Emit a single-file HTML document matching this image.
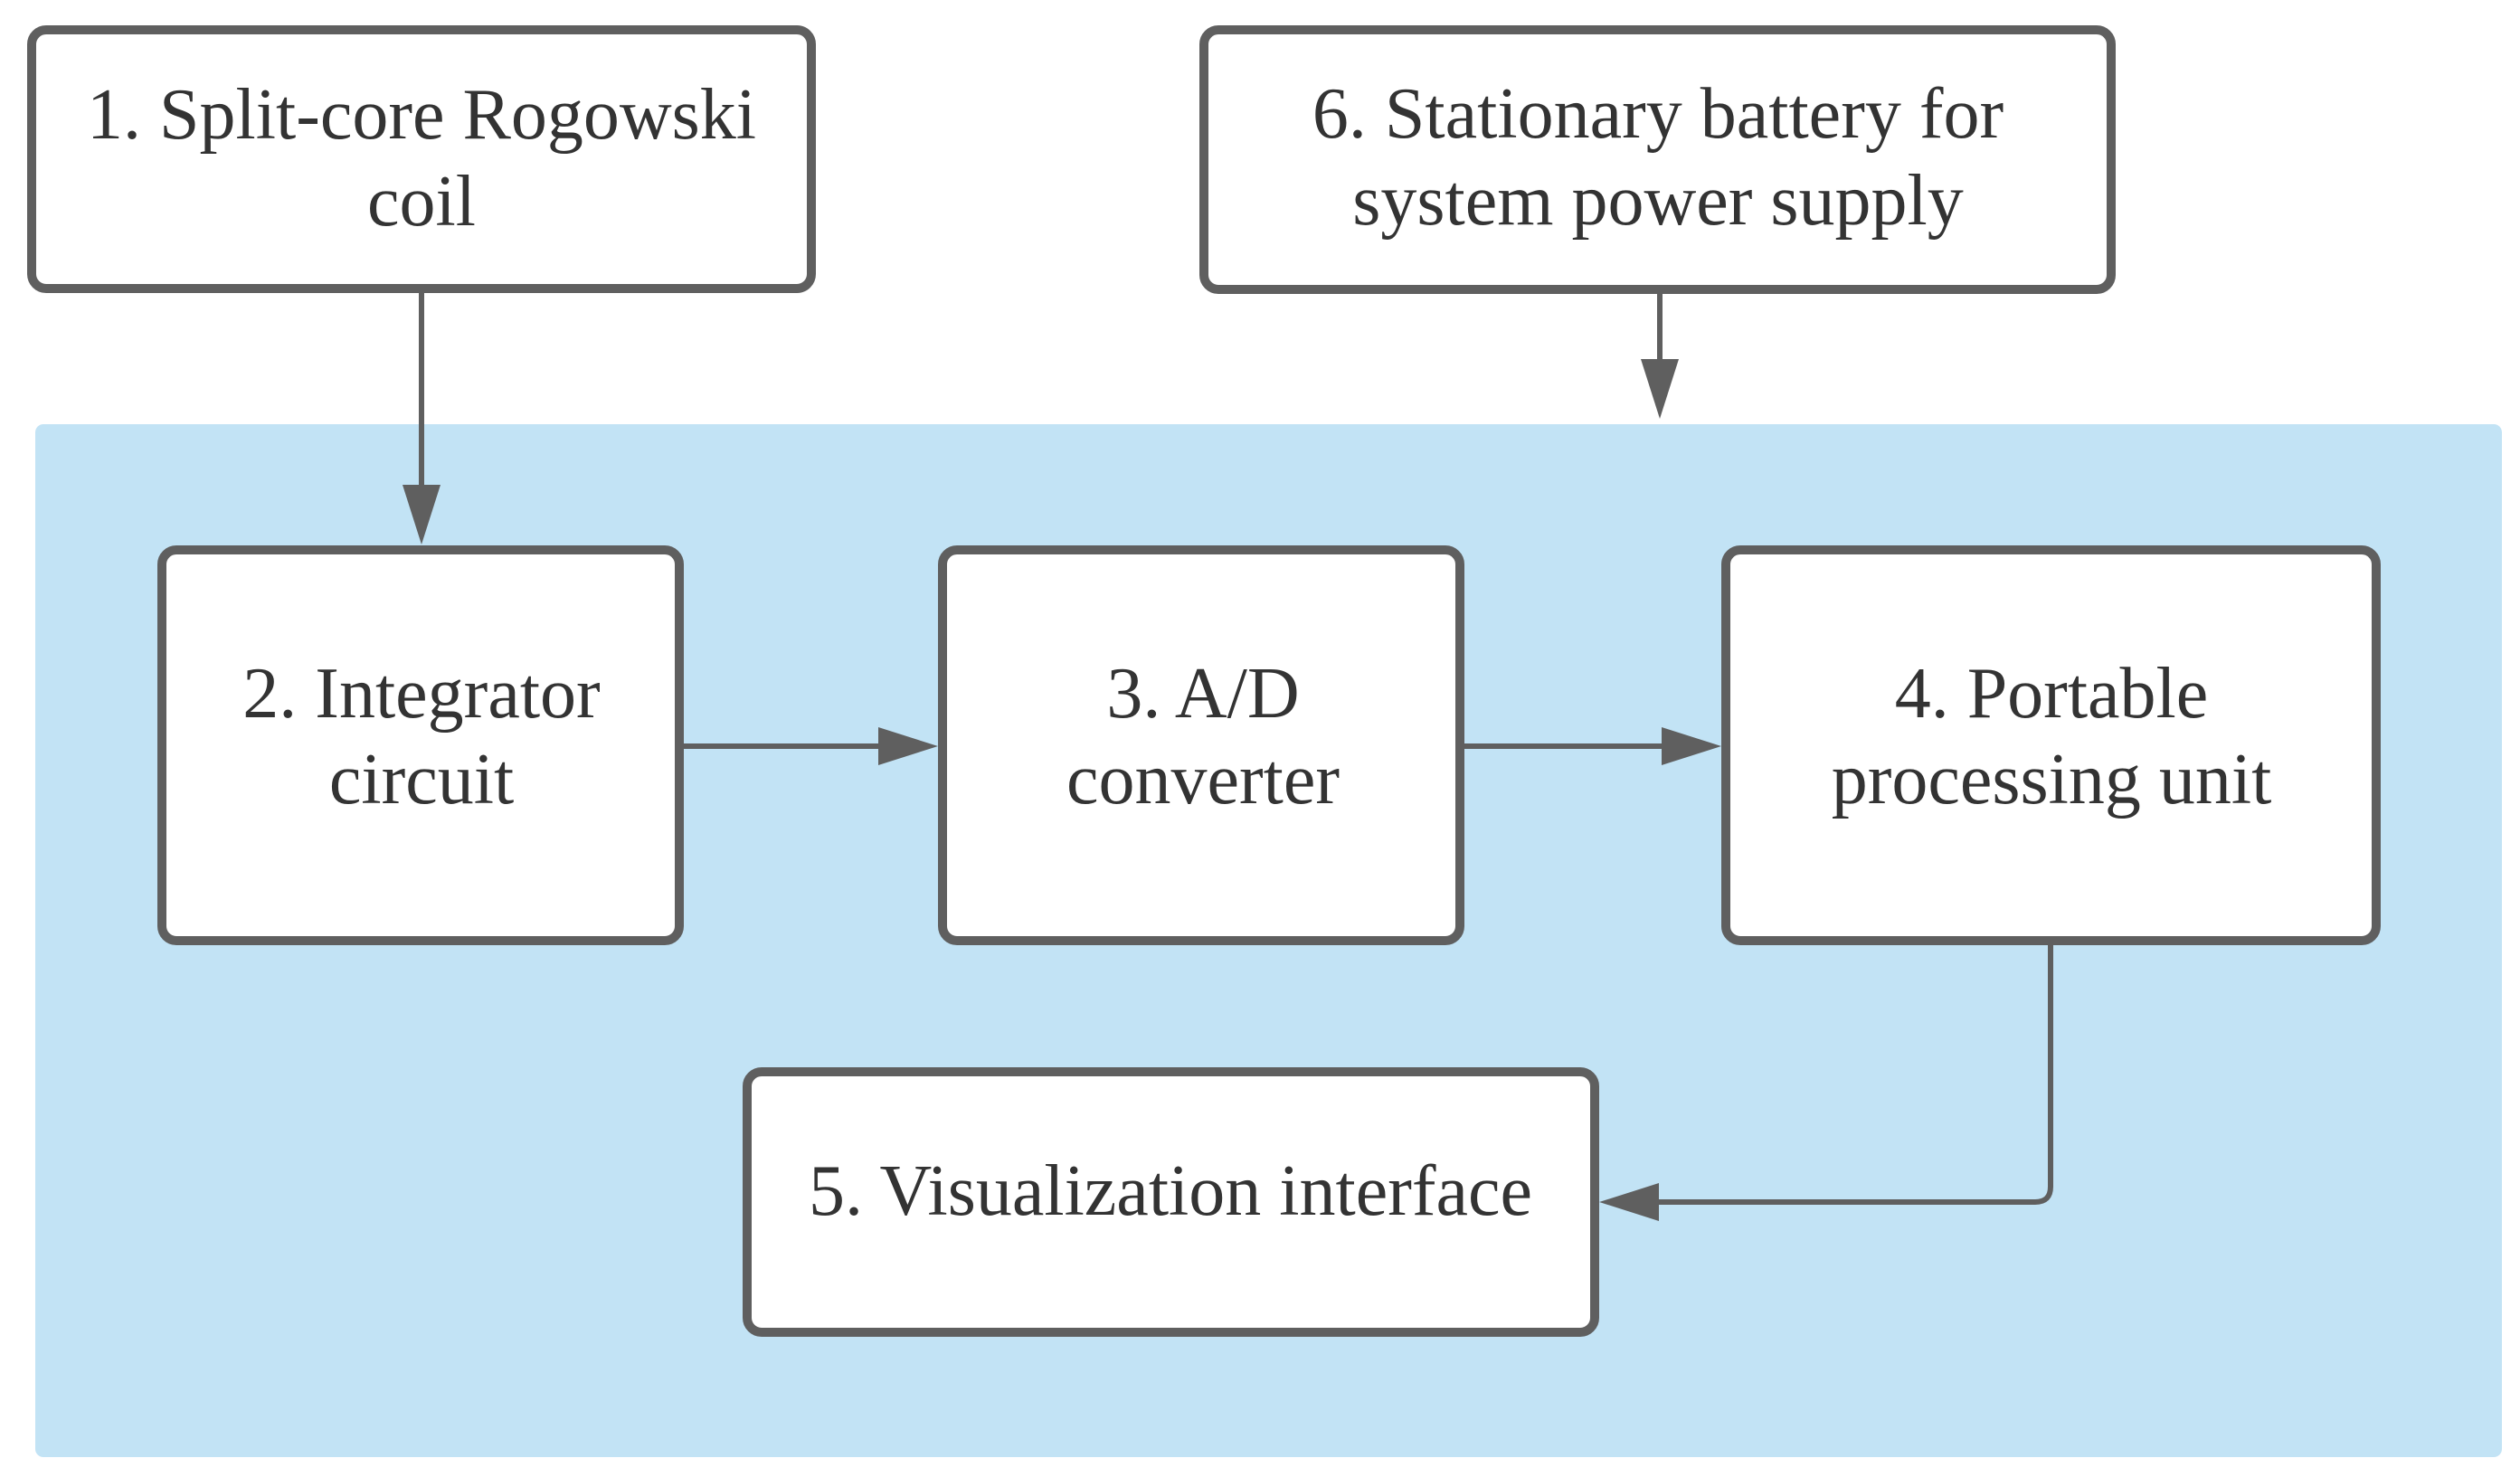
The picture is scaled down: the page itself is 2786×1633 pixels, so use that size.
<!DOCTYPE html>
<html><head><meta charset="utf-8"><style>
html,body{margin:0;padding:0;background:#fff;}
svg{display:block;}
text{font-family:"Liberation Serif",serif;font-size:80px;fill:#333;text-anchor:middle;}
</style></head><body>
<svg width="2786" height="1633" viewBox="0 0 2786 1633" xmlns="http://www.w3.org/2000/svg">
<rect x="39" y="469" width="2727" height="1142" rx="9" fill="#c2e3f5"/>
<g fill="#fff" stroke="#5f5f5f" stroke-width="10">
<rect x="35" y="33" width="862" height="286" rx="16"/>
<rect x="1331" y="33" width="1003" height="287" rx="16"/>
<rect x="179" y="608" width="572" height="432" rx="16"/>
<rect x="1042" y="608" width="572" height="432" rx="16"/>
<rect x="1908" y="608" width="719" height="432" rx="16"/>
<rect x="826" y="1185" width="937" height="288" rx="16"/>
</g>
<g stroke="#5f5f5f" stroke-width="6" fill="none">
<line x1="466" y1="324" x2="466" y2="540"/>
<line x1="1835" y1="325" x2="1835" y2="400"/>
<line x1="756" y1="825" x2="975" y2="825"/>
<line x1="1619" y1="825" x2="1845" y2="825"/>
<path d="M2267 1045 V1312 Q2267 1329 2250 1329 H1830"/>
</g>
<g fill="#5f5f5f">
<polygon points="445,536 487,536 466,602"/>
<polygon points="1814,397 1856,397 1835,463"/>
<polygon points="971,804 971,846 1037,825"/>
<polygon points="1837,804 1837,846 1903,825"/>
<polygon points="1834,1308 1834,1350 1768,1329"/>
</g>
<text x="466" y="153">1. Split-core Rogowski</text>
<text x="466" y="249">coil</text>
<text x="1833" y="152">6. Stationary battery for</text>
<text x="1833" y="248">system power supply</text>
<text x="466" y="793">2. Integrator</text>
<text x="466" y="888">circuit</text>
<text x="1330" y="793">3. A/D</text>
<text x="1330" y="888">converter</text>
<text x="2268" y="793">4. Portable</text>
<text x="2268" y="888">processing unit</text>
<text x="1294" y="1343">5. Visualization interface</text>
</svg>
</body></html>
